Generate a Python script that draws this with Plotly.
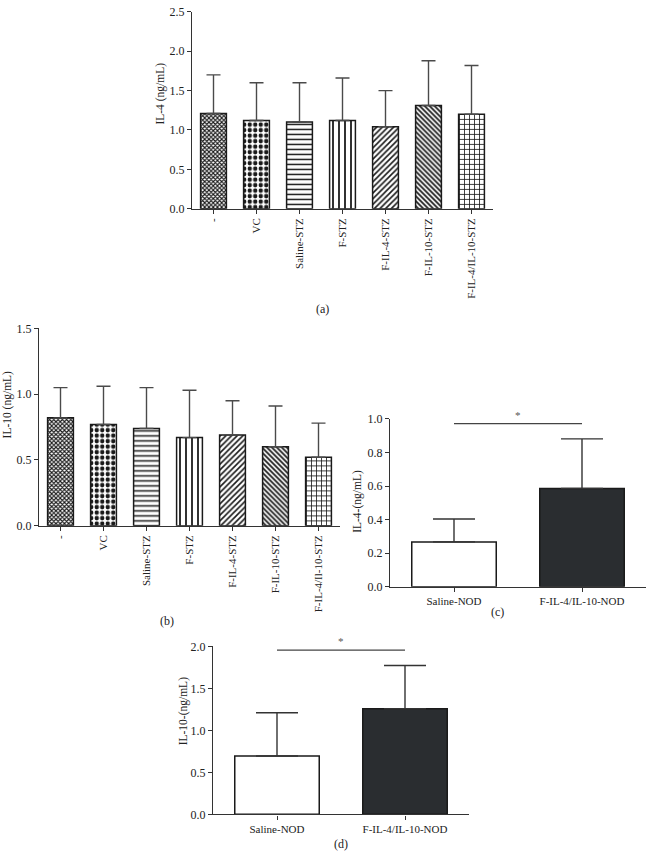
import plotly.graph_objects as go

W, H = 647, 862

# ---------------- data ----------------
stz_groups_a = ["-", "VC", "Saline-STZ", "F-STZ", "F-IL-4-STZ", "F-IL-10-STZ", "F-IL-4/IL-10-STZ"]
stz_groups_b = ["-", "VC", "Saline-STZ", "F-STZ", "F-IL-4-STZ", "F-IL-10-STZ", "F-IL-4/Il-10-STZ"]
il4_stz_mean = [1.21, 1.12, 1.10, 1.12, 1.04, 1.31, 1.20]
il4_stz_sd = [0.49, 0.48, 0.50, 0.54, 0.46, 0.57, 0.62]
il10_stz_mean = [0.82, 0.77, 0.74, 0.67, 0.69, 0.60, 0.52]
il10_stz_sd = [0.23, 0.29, 0.31, 0.36, 0.26, 0.31, 0.26]

nod_groups = ["Saline-NOD", "F-IL-4/IL-10-NOD"]
il4_nod_mean = [0.267, 0.586]
il4_nod_sd = [0.137, 0.295]
il10_nod_mean = [0.695, 1.258]
il10_nod_sd = [0.515, 0.515]

sig_c = 0.972   # significance bar height, panel c
sig_d = 1.955   # significance bar height, panel d

patterns = ["x", ".", "-", "|", "/", "\\", "+"]
pat_sizes = [3, 5.5, 5, 6, 4, 3.5, 5]
pat_solid = [0.6, 0.5, 0.3, 0.3, 0.4, 0.5, 0.3]

# ---------------- helpers ----------------
def px_x(x):
    return x / W

def px_y(y):
    return 1 - y / H

FONT = "Liberation Serif"
AX = "#333333"
TXT = "#222222"

fig = go.Figure()

def add_panel(idx, cats, mean, sd, xr, yr, yrange, dtick, bar_w, cap, colors=None, pattern=True,
              ecolor="#4a4a4a"):
    xa = "x" if idx == 1 else f"x{idx}"
    ya = "y" if idx == 1 else f"y{idx}"
    marker = dict(line=dict(color="#1a1a1a", width=1.5))
    if pattern:
        marker["color"] = "white"
        marker["pattern"] = dict(shape=patterns, size=pat_sizes, solidity=pat_solid,
                                 fgcolor="#1a1a1a", bgcolor="white", fillmode="replace")
    else:
        marker["color"] = colors
    fig.add_trace(go.Bar(
        x=list(range(len(cats))), y=mean, width=bar_w, marker=marker,
        error_y=dict(type="data", symmetric=False, array=sd, arrayminus=[0] * len(sd),
                     color=ecolor, thickness=1.4, width=cap),
        xaxis=xa, yaxis=ya, showlegend=False, hoverinfo="skip"))
    xkey = "xaxis" if idx == 1 else f"xaxis{idx}"
    ykey = "yaxis" if idx == 1 else f"yaxis{idx}"
    fig.update_layout(**{
        xkey: dict(domain=[px_x(xr[0]), px_x(xr[1])], anchor=ya, range=[-0.5, len(cats) - 0.5],
                   tickmode="array", tickvals=list(range(len(cats))), ticktext=cats,
                   tickangle=-90 if pattern else 0, showline=True, linecolor=AX, linewidth=1.3,
                   ticks="outside", ticklen=4, tickcolor=AX, tickwidth=1.2,
                   showgrid=False, zeroline=False, fixedrange=True,
                   tickfont=dict(family=FONT, size=11, color=TXT)),
        ykey: dict(domain=[px_y(yr[0]), px_y(yr[1])], anchor=xa, range=yrange,
                   tickmode="linear", tick0=0, dtick=dtick, tickformat=".1f",
                   showline=True, linecolor=AX, linewidth=1.3,
                   ticks="outside", ticklen=4, tickcolor=AX, tickwidth=1.2,
                   showgrid=False, zeroline=False, fixedrange=True,
                   tickfont=dict(family=FONT, size=12, color=TXT)),
    })

# panel a
add_panel(1, stz_groups_a, il4_stz_mean, il4_stz_sd, (192, 493), (205, 5), [0, 2.5], 0.5, 0.6, 7)
# panel b
add_panel(2, stz_groups_b, il10_stz_mean, il10_stz_sd, (39, 340), (527.3, 326.7), [0, 1.5], 0.5, 0.6, 7)
# panel c
add_panel(3, nod_groups, il4_nod_mean, il4_nod_sd, (390, 646), (589.3, 418.7), [0, 1.0], 0.2, 0.66, 21,
          colors=["white", "#2a2d30"], pattern=False, ecolor="#333333")
# panel d
add_panel(4, nod_groups, il10_nod_mean, il10_nod_sd, (213, 469), (820.7, 650), [0, 2.0], 0.5, 0.66, 21,
          colors=["white", "#2a2d30"], pattern=False, ecolor="#333333")

# significance bars
for idx, yv in ((3, sig_c), (4, sig_d)):
    fig.add_trace(go.Scatter(x=[0, 1], y=[yv, yv], mode="lines",
                             line=dict(color="#444", width=1.3),
                             xaxis=f"x{idx}", yaxis=f"y{idx}", showlegend=False, hoverinfo="skip",
                             cliponaxis=False))
    fig.add_annotation(x=0.5, y=yv, xref=f"x{idx}", yref=f"y{idx}", text="*", showarrow=False,
                       yanchor="bottom", yshift=1, font=dict(family=FONT, size=11, color="#555"))

# axis titles
titles = [
    ("IL-4 (ng/mL)", 161, 88),
    ("IL-10 (ng/mL)", 7, 404),
    ("IL-4-(ng/mL)", 358, 503),
    ("IL-10-(ng/mL)", 183, 716),
]
for txt, x, y in titles:
    fig.add_annotation(x=px_x(x), y=px_y(y), xref="paper", yref="paper", text=txt, textangle=-90,
                       showarrow=False, xanchor="center", yanchor="middle",
                       font=dict(family=FONT, size=11.5, color=TXT))

# panel labels
for txt, x, y in [("(a)", 322, 307), ("(b)", 167, 624), ("(c)", 497, 615), ("(d)", 341, 851)]:
    fig.add_annotation(x=px_x(x), y=px_y(y), xref="paper", yref="paper", text=txt,
                       showarrow=False, xanchor="center", yanchor="middle",
                       font=dict(family=FONT, size=12, color=TXT))

fig.update_layout(width=W, height=H, margin=dict(l=0, r=0, t=0, b=0),
                  paper_bgcolor="white", plot_bgcolor="white", showlegend=False,
                  barmode="overlay")

fig.write_html("out.html", config={"displayModeBar": False},
               post_script="document.body.style.margin='0px';document.body.style.overflow='hidden';")
